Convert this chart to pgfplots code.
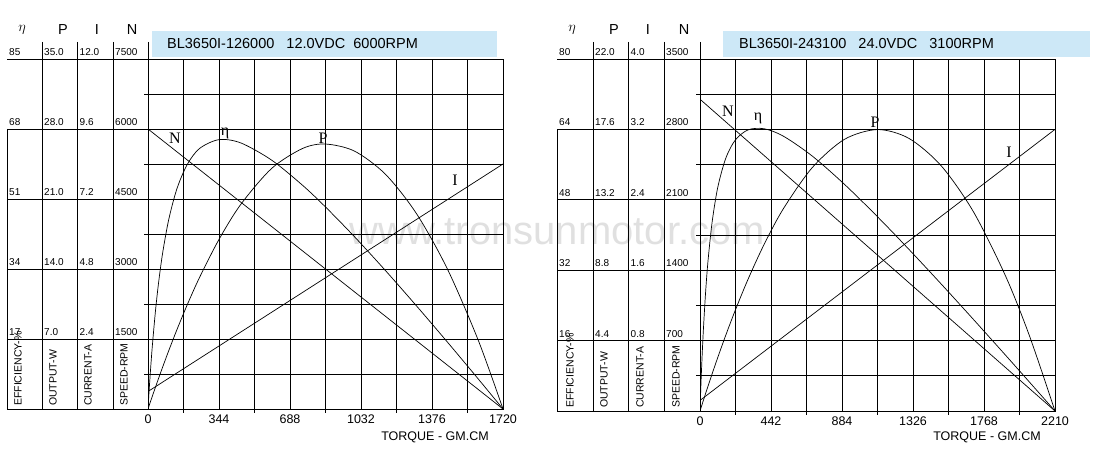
\documentclass[border=0pt]{standalone}
\usepackage{pgfplots}
\pgfplotsset{compat=1.18}
\usepackage{pgfplotstable}
\usepackage{fontspec}
\setmainfont{Liberation Sans}
\newfontfamily\seriffont{Liberation Serif}
\definecolor{titlebg}{RGB}{205,232,247}

\pgfplotstableread{
T eta P
0 0 0
5 4.11 0.307
10 7.91 0.613
20 14.70 1.218
35 23.20 2.113
50 30.15 2.991
70 37.58 4.138
100 45.91 5.804
140 53.47 7.924
190 59.37 10.414
250 63.28 13.165
344 65.42 16.957
450 64.61 20.474
600 60.41 24.074
750 54.28 26.062
860 49.06 26.495
1000 41.86 25.793
1150 33.65 23.482
1300 25.09 19.560
1450 16.29 14.025
1600 7.30 6.878
1720 0 0
}\curveA

\pgfplotstableread{
T eta P
0 0 0
5 5.21 0.159
10 9.86 0.317
20 17.78 0.631
35 27.07 1.097
50 34.17 1.556
75 42.80 2.307
110 50.73 3.328
160 57.40 4.725
220 61.59 6.307
300 63.91 8.254
400 64.14 10.429
520 62.44 12.659
700 57.91 15.226
900 51.49 16.983
1105 44.15 17.589
1300 36.76 17.041
1500 28.92 15.341
1700 20.90 12.489
1900 12.77 8.485
2050 6.61 4.725
2210 0 0
}\curveB

\pgfplotsset{
  panel/.style={scale only axis, width=355pt, anchor=south west, ymin=0},
  gridpanel/.style={panel,
    grid=both,
    major grid style={black, line width=0.8pt},
    minor grid style={black, line width=0.8pt},
    tick pos=left, tick align=outside,
    major tick length=0pt, minor tick length=4pt,
    every minor tick/.append style={black, line width=0.8pt},
    axis line style={black, line width=0.8pt},
    yticklabels={},
    xticklabel style={font=\fontsize{12.5}{13}\selectfont, yshift=-2pt},
    /pgf/number format/assume math mode=true,
  },
  hidden/.style={panel, hide axis},
  crv/.style={black, line width=0.7pt},
}

\begin{document}
\begin{tikzpicture}[x=1pt,y=1pt]
\useasboundingbox (0,0) rectangle (1093,462);

% watermark
\node[text=gray!24, font=\fontsize{40}{40}\selectfont] at (557,230) {www.tronsunmotor.com};

% ================= LEFT PANEL =================
\begin{axis}[gridpanel, height=350pt, at={(148pt,53pt)},
  xmin=0, xmax=1720, ymax=7500,
  xtick={0,344,688,1032,1376,1720}, xticklabels={0,344,688,1032,1376,1720},
  minor xtick={172,516,860,1204,1548},
  ytick={0,1500,3000,4500,6000,7500},
  minor ytick={750,2250,3750,5250,6750}]
\addplot[crv] coordinates {(0,6000) (1720,0)};
\end{axis}
\begin{axis}[hidden, height=350pt, at={(148pt,53pt)}, xmin=0, xmax=1720, ymax=35]
\addplot[crv, smooth] table[x=T, y=P] {\curveA};
\end{axis}
\begin{axis}[hidden, height=350pt, at={(148pt,53pt)}, xmin=0, xmax=1720, ymax=85]
\addplot[crv, smooth] table[x=T, y=eta] {\curveA};
\end{axis}
\begin{axis}[hidden, height=350pt, at={(148pt,53pt)}, xmin=0, xmax=1720, ymax=12]
\addplot[crv] coordinates {(0,0.6) (1720,8.4)};
\end{axis}

% left table
\begin{scope}[line width=0.8pt]
\foreach \yy in {403,333,263,193,123,53} {\draw (7,\yy) -- (148,\yy);}
\foreach \xx in {42,77,113,148} {\draw (\xx,420) -- (\xx,53);}
\draw (7,333) -- (7,53);
\end{scope}
\begin{scope}[font=\fontsize{10}{10}\selectfont]
\foreach \yy/\a/\b/\c/\d in {403/85/35.0/12.0/7500, 333/68/28.0/9.6/6000, 263/51/21.0/7.2/4500, 193/34/14.0/4.8/3000, 123/17/7.0/2.4/1500} {
  \node[anchor=base west, inner sep=0] at (9,\yy+3.5) {\a};
  \node[anchor=base west, inner sep=0] at (44,\yy+3.5) {\b};
  \node[anchor=base west, inner sep=0] at (79.5,\yy+3.5) {\c};
  \node[anchor=base west, inner sep=0] at (115,\yy+3.5) {\d};
}
\end{scope}
\begin{scope}[font=\fontsize{10.5}{10.5}\selectfont]
\node[rotate=90, anchor=west, inner sep=0] at (18,56) {EFFICIENCY-\%};
\node[rotate=90, anchor=west, inner sep=0] at (53,56) {OUTPUT-W};
\node[rotate=90, anchor=west, inner sep=0] at (88,56) {CURRENT-A};
\node[rotate=90, anchor=west, inner sep=0] at (124,56) {SPEED-RPM};
\end{scope}
\node[font=\fontsize{15}{15}\selectfont] at (22,432) {$\eta$};
\node[font=\fontsize{14.5}{14.5}\selectfont] at (63,432) {P};
\node[font=\fontsize{14.5}{14.5}\selectfont] at (97,432) {I};
\node[font=\fontsize{14.5}{14.5}\selectfont] at (132,432) {N};

\fill[titlebg] (152,405) rectangle (497,431);
\node[anchor=west, inner sep=0, font=\fontsize{14.5}{14.5}\selectfont] at (167,418) {BL3650I-126000\ \ \ 12.0VDC\ \ 6000RPM};

\begin{scope}[font=\fontsize{16}{16}\seriffont]
\node at (175,324) {N};
\node at (225,329) {η};
\node at (323,324) {P};
\node at (455,282) {I};
\end{scope}
\node[font=\fontsize{12.5}{12.5}\selectfont] at (435,25) {TORQUE - GM.CM};

% ================= RIGHT PANEL =================
\begin{axis}[gridpanel, height=352pt, at={(700pt,51pt)},
  xmin=0, xmax=2210, ymax=3500,
  xtick={0,442,884,1326,1768,2210}, xticklabels={0,442,884,1326,1768,2210},
  minor xtick={221,663,1105,1547,1989},
  ytick={0,700,1400,2100,2800,3500},
  minor ytick={350,1050,1750,2450,3150}]
\addplot[crv] coordinates {(0,3100) (2210,0)};
\end{axis}
\begin{axis}[hidden, height=352pt, at={(700pt,51pt)}, xmin=0, xmax=2210, ymax=22]
\addplot[crv, smooth] table[x=T, y=P] {\curveB};
\end{axis}
\begin{axis}[hidden, height=352pt, at={(700pt,51pt)}, xmin=0, xmax=2210, ymax=80]
\addplot[crv, smooth] table[x=T, y=eta] {\curveB};
\end{axis}
\begin{axis}[hidden, height=352pt, at={(700pt,51pt)}, xmin=0, xmax=2210, ymax=4]
\addplot[crv] coordinates {(0,0.12) (2210,3.2)};
\end{axis}

% right table
\begin{scope}[line width=0.8pt]
\foreach \yy in {403,332.6,262.2,191.8,121.4,51} {\draw (557,\yy) -- (700,\yy);}
\foreach \xx in {593,628,664,700} {\draw (\xx,420) -- (\xx,51);}
\draw (557,332.6) -- (557,51);
\end{scope}
\begin{scope}[font=\fontsize{10}{10}\selectfont]
\foreach \yy/\a/\b/\c/\d in {403/80/22.0/4.0/3500, 332.6/64/17.6/3.2/2800, 262.2/48/13.2/2.4/2100, 191.8/32/8.8/1.6/1400, 121.4/16/4.4/0.8/700} {
  \node[anchor=base west, inner sep=0] at (559,\yy+3.5) {\a};
  \node[anchor=base west, inner sep=0] at (595,\yy+3.5) {\b};
  \node[anchor=base west, inner sep=0] at (630.5,\yy+3.5) {\c};
  \node[anchor=base west, inner sep=0] at (666,\yy+3.5) {\d};
}
\end{scope}
\begin{scope}[font=\fontsize{10.5}{10.5}\selectfont]
\node[rotate=90, anchor=west, inner sep=0] at (570,54) {EFFICIENCY-\%};
\node[rotate=90, anchor=west, inner sep=0] at (604,54) {OUTPUT-W};
\node[rotate=90, anchor=west, inner sep=0] at (640,54) {CURRENT-A};
\node[rotate=90, anchor=west, inner sep=0] at (676,54) {SPEED-RPM};
\end{scope}
\node[font=\fontsize{15}{15}\selectfont] at (572,432) {$\eta$};
\node[font=\fontsize{14.5}{14.5}\selectfont] at (614,432) {P};
\node[font=\fontsize{14.5}{14.5}\selectfont] at (648,432) {I};
\node[font=\fontsize{14.5}{14.5}\selectfont] at (684,432) {N};

\fill[titlebg] (723,405) rectangle (1090,431);
\node[anchor=west, inner sep=0, font=\fontsize{14.5}{14.5}\selectfont] at (739,418) {BL3650I-243100\ \ \ 24.0VDC\ \ \ 3100RPM};

\begin{scope}[font=\fontsize{16}{16}\seriffont]
\node at (728,351) {N};
\node at (758,344) {η};
\node at (875,340) {P};
\node at (1009,310) {I};
\end{scope}
\node[font=\fontsize{12.5}{12.5}\selectfont] at (987,25) {TORQUE - GM.CM};

\end{tikzpicture}
\end{document}
